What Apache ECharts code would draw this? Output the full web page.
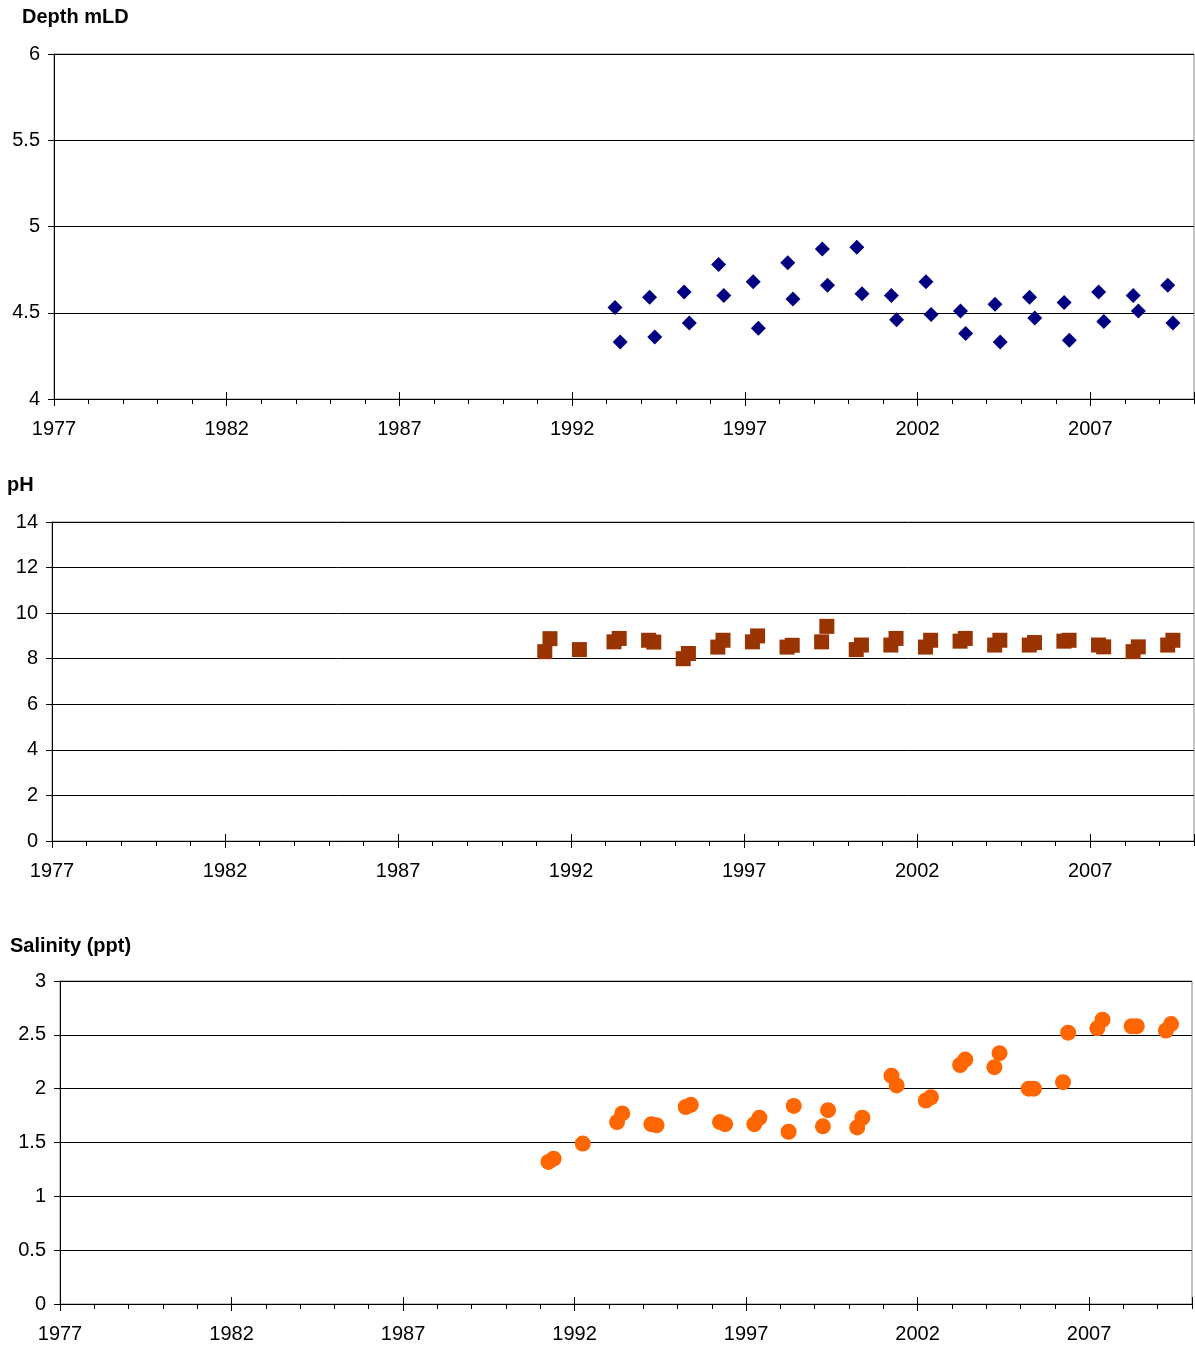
<!DOCTYPE html>
<html>
<head>
<meta charset="utf-8">
<script src="https://cdn.jsdelivr.net/npm/echarts@6/dist/echarts.min.js"></script>
<style>
html,body{margin:0;padding:0;background:#fff;}
#chart{width:1195px;height:1349px;}
</style>
</head>
<body>
<div id="chart"></div>
<script>
// Sampling dates (decimal years)
const sampleDates = [1991.24, 1991.39, 1992.24,
  1993.24, 1993.39, 1994.24, 1994.39, 1995.24, 1995.39, 1996.24, 1996.39,
  1997.24, 1997.39, 1998.24, 1998.39, 1999.24, 1999.39, 2000.24, 2000.39,
  2001.24, 2001.39, 2002.24, 2002.39, 2003.24, 2003.39, 2004.24, 2004.39,
  2005.24, 2005.39, 2006.24, 2006.39, 2007.24, 2007.39, 2008.24, 2008.39,
  2009.24, 2009.39];

const depthValues = [null, null, null,
  4.53, 4.33, 4.59, 4.36, 4.62, 4.44, 4.78, 4.60,
  4.68, 4.41, 4.79, 4.58, 4.87, 4.66, 4.88, 4.61,
  4.60, 4.46, 4.68, 4.49, 4.51, 4.38, 4.55, 4.33,
  4.59, 4.47, 4.56, 4.34, 4.62, 4.45, 4.60, 4.51,
  4.66, 4.44];

const phValues = [8.31, 8.88, 8.40,
  8.74, 8.89, 8.81, 8.73, 8.00, 8.23, 8.51, 8.81,
  8.74, 9.00, 8.51, 8.59, 8.74, 9.42, 8.40, 8.60,
  8.60, 8.89, 8.51, 8.81, 8.77, 8.89, 8.60, 8.81,
  8.60, 8.71, 8.77, 8.81, 8.60, 8.52, 8.31, 8.52,
  8.60, 8.81];

const salinityValues = [1.32, 1.35, 1.49,
  1.69, 1.77, 1.67, 1.66, 1.83, 1.85, 1.69, 1.67,
  1.67, 1.73, 1.60, 1.84, 1.65, 1.80, 1.64, 1.73,
  2.12, 2.03, 1.89, 1.92, 2.22, 2.27, 2.20, 2.33,
  2.00, 2.00, 2.06, 2.52, 2.56, 2.64, 2.58, 2.58,
  2.54, 2.60];

const panelTitles = ['Depth mLD', 'pH', 'Salinity (ppt)'];
const xMin = 1977, xMax = 2010, xLabelStep = 5;
const yRanges = [
  {min: 4, max: 6, interval: 0.5},
  {min: 0, max: 14, interval: 2},
  {min: 0, max: 3, interval: 0.5}
];

function pairs(vals) {
  const out = [];
  sampleDates.forEach((d, i) => { if (vals[i] !== null) out.push([d, vals[i]]); });
  return out;
}

const FONT = 'Liberation Sans, Arial, sans-serif';
const grids = [
  {left: 54, top: 54, width: 1140, height: 345, show: true, borderColor: '#888', borderWidth: 1},
  {left: 52, top: 522, width: 1142, height: 319, show: true, borderColor: '#888', borderWidth: 1},
  {left: 60, top: 981, width: 1132, height: 323, show: true, borderColor: '#888', borderWidth: 1}
];
const titlePos = [{left: 22, top: 7}, {left: 7, top: 475}, {left: 10, top: 936}];

const xAxes = [], yAxes = [];
grids.forEach((g, gi) => {
  // labelled axis with major ticks (outside)
  xAxes.push({
    type: 'value', gridIndex: gi, position: 'bottom', min: xMin, max: xMax, interval: xLabelStep,
    axisLine: {show: true, onZero: false, lineStyle: {color: '#000', width: 1}},
    axisTick: {show: true, inside: false, length: 7, lineStyle: {color: '#000'}},
    axisLabel: {show: true, margin: 20, color: '#000', fontSize: 20, fontFamily: FONT, showMaxLabel: false,
      formatter: v => String(Math.round(v))},
    splitLine: {show: false}
  });
  // major ticks crossing upward (inside)
  xAxes.push({
    type: 'value', gridIndex: gi, position: 'bottom', min: xMin, max: xMax, interval: xLabelStep,
    axisLine: {show: false, onZero: false},
    axisTick: {show: true, inside: true, length: 7, lineStyle: {color: '#000'}},
    axisLabel: {show: false}, splitLine: {show: false}
  });
  // yearly minor ticks
  xAxes.push({
    type: 'value', gridIndex: gi, position: 'bottom', min: xMin, max: xMax, interval: 1,
    axisLine: {show: false, onZero: false},
    axisTick: {show: true, inside: false, length: 5, lineStyle: {color: '#000'}},
    axisLabel: {show: false}, splitLine: {show: false}
  });
  const r = yRanges[gi];
  yAxes.push({
    type: 'value', gridIndex: gi, min: r.min, max: r.max, interval: r.interval,
    axisLine: {show: true, onZero: false, lineStyle: {color: '#000', width: 1}},
    axisTick: {show: true, inside: false, length: 6, lineStyle: {color: '#000'}},
    axisLabel: {margin: 14, color: '#000', fontSize: 20, fontFamily: FONT},
    splitLine: {show: true, lineStyle: {color: '#000', width: 1}}
  });
});

const option = {
  animation: false,
  backgroundColor: '#fff',
  title: panelTitles.map((t, i) => ({
    text: t, left: titlePos[i].left, top: titlePos[i].top, padding: 0,
    textStyle: {fontSize: 20, fontWeight: 'bold', color: '#000', fontFamily: FONT}
  })),
  grid: grids,
  xAxis: xAxes,
  yAxis: yAxes,
  series: [
    {type: 'scatter', xAxisIndex: 0, yAxisIndex: 0, symbol: 'diamond', symbolSize: 15,
      itemStyle: {color: '#000080', opacity: 1}, data: pairs(depthValues)},
    {type: 'scatter', xAxisIndex: 3, yAxisIndex: 1, symbol: 'rect', symbolSize: 15,
      itemStyle: {color: '#993300', opacity: 1}, data: pairs(phValues)},
    {type: 'scatter', xAxisIndex: 6, yAxisIndex: 2, symbol: 'circle', symbolSize: 16,
      itemStyle: {color: '#FF6600', opacity: 1}, data: pairs(salinityValues)}
  ]
};

const chart = echarts.init(document.getElementById('chart'), null, {renderer: 'canvas'});
chart.setOption(option);
</script>
</body>
</html>
